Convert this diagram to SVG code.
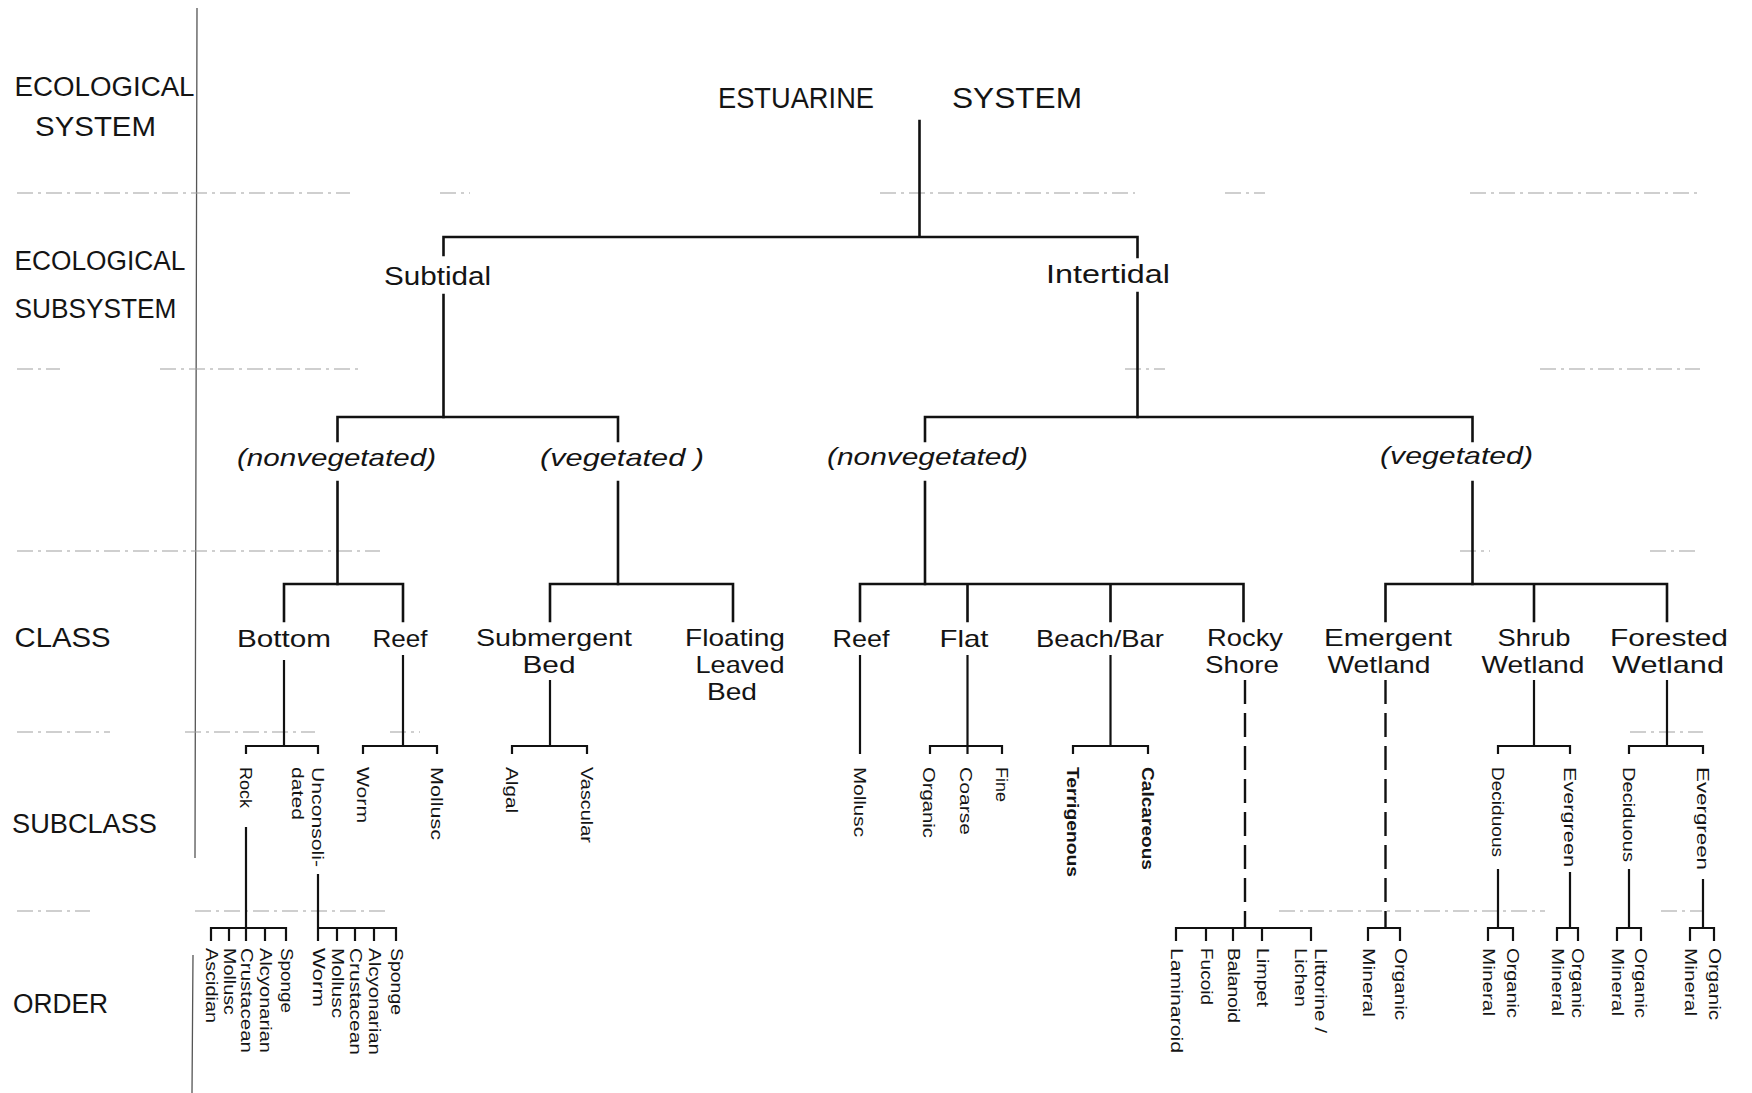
<svg xmlns="http://www.w3.org/2000/svg" width="1752" height="1093" viewBox="0 0 1752 1093">
<style>
text{font-family:"Liberation Sans",Arial,sans-serif;fill:#141414}
.lv{font-size:27px}
.root{font-size:30px}
.sub{font-size:25px}
.it{font-size:24px;font-style:italic}
.cl{font-size:24px;text-anchor:middle}
.sc{font-size:17px}
.bd{font-weight:bold}
.or{font-size:16px}
.ln{fill:none;stroke:#111;stroke-width:2.6;stroke-linejoin:miter;stroke-linecap:square}
.ln2{fill:none;stroke:#111;stroke-width:2.2;stroke-linecap:square}
.dash{fill:none;stroke:#111;stroke-width:2.4;stroke-dasharray:24 9}
.rule{fill:none;stroke:#a0a0a0;stroke-width:1.2;stroke-dasharray:16 5 3 5}
.sep{fill:none;stroke:#555;stroke-width:1.3}
</style>
<rect width="1752" height="1093" fill="#fff"/>
<g id="rules">
<path class="sep" d="M197,8 L195,858 M193,955 L192,1093"/>
<path class="rule" d="M17,193 H350 M440,193 H470 M880,193 H1135 M1225,193 H1265 M1470,193 H1700"/>
<path class="rule" d="M17,369 H60 M160,369 H360 M1125,369 H1165 M1540,369 H1700"/>
<path class="rule" d="M17,551 H380 M1460,551 H1490 M1650,551 H1700"/>
<path class="rule" d="M17,732 H110 M185,732 H315 M390,732 H420 M1630,732 H1703"/>
<path class="rule" d="M17,911 H90 M195,911 H390 M1279,911 H1545 M1661,911 H1703"/>
</g>
<g id="level-labels">
<text class="lv" x="14.5" y="96" textLength="180" lengthAdjust="spacingAndGlyphs">ECOLOGICAL</text>
<text class="lv" x="35" y="136" textLength="121" lengthAdjust="spacingAndGlyphs">SYSTEM</text>
<text class="lv" x="14.5" y="270" textLength="171" lengthAdjust="spacingAndGlyphs">ECOLOGICAL</text>
<text class="lv" x="14.5" y="318" textLength="162" lengthAdjust="spacingAndGlyphs">SUBSYSTEM</text>
<text class="lv" x="14.5" y="647" textLength="96" lengthAdjust="spacingAndGlyphs">CLASS</text>
<text class="lv" x="12" y="833" textLength="145" lengthAdjust="spacingAndGlyphs">SUBCLASS</text>
<text class="lv" x="13" y="1013" textLength="95" lengthAdjust="spacingAndGlyphs">ORDER</text>
</g>
<g id="connectors">
<path class="ln" d="M919.5,121 V237 M443.5,255 V237 H1137.5 V257 M443.5,295 V417 M1137.5,293 V417"/>
<path class="ln" d="M337.5,441 V417 H618 V441 M925,441 V417 H1472.5 V441"/>
<path class="ln" d="M337.5,482 V584 M618,482 V584 M925,482 V584 M1472.5,482 V584"/>
<path class="ln" d="M284,621 V584 H403 V621 M550,621 V584 H733 V621 M860,621 V584 H1243.5 V621 M967.5,584 V621 M1110.5,584 V621 M1385.5,621 V584 H1667 V621 M1534,584 V621"/>
<path class="ln2" d="M284,661 V746 M246,753 V746 H318 V753 M403,656 V746 M363,753 V746 H437 V753 M550,681 V746 M512,753 V746 H587 V753"/>
<path class="ln2" d="M860,656 V753 M967.5,656 V753 M930,753 V746 H1002 V753 M1110.5,656 V746 M1073,753 V746 H1148 V753"/>
<path class="ln2" d="M1534,681 V746 M1498,753 V746 H1570 V753 M1667,681 V746 M1629,753 V746 H1703 V753"/>
<path class="dash" d="M1245,680 V928 M1385.5,680 V928"/>
<path class="ln2" d="M246,828 V928 M211,940 V928 H286 V940 M229,928 V940 M246,928 V940 M265,928 V940"/>
<path class="ln2" d="M318,875 V940 M318,928 H396 V940 M337,928 V940 M355,928 V940 M374,928 V940"/>
<path class="ln2" d="M1176,940 V928 H1311 V940 M1206,928 V940 M1233,928 V940 M1262,928 V940 M1368,940 V928 H1400 V940"/>
<path class="ln2" d="M1498,870 V928 M1488,940 V928 H1513 V940 M1570,873 V928 M1557,940 V928 H1578 V940 M1629,870 V928 M1617,940 V928 H1641 V940 M1703,880 V928 M1690,940 V928 H1714 V940"/>
</g>
<g id="node-root"><text class="root" x="718" y="108" textLength="156" lengthAdjust="spacingAndGlyphs">ESTUARINE</text><text class="root" x="952" y="108" textLength="130" lengthAdjust="spacingAndGlyphs">SYSTEM</text></g>
<g id="node-subtidal"><text class="sub" x="384" y="285" textLength="107" lengthAdjust="spacingAndGlyphs">Subtidal</text></g>
<g id="node-intertidal"><text class="sub" x="1046" y="283" textLength="124" lengthAdjust="spacingAndGlyphs">Intertidal</text></g>
<g id="node-sub-nonveg"><text class="it" x="237" y="466" textLength="199" lengthAdjust="spacingAndGlyphs">(nonvegetated)</text></g>
<g id="node-sub-veg"><text class="it" x="540" y="466" textLength="164" lengthAdjust="spacingAndGlyphs">(vegetated )</text></g>
<g id="node-int-nonveg"><text class="it" x="827" y="465" textLength="201" lengthAdjust="spacingAndGlyphs">(nonvegetated)</text></g>
<g id="node-int-veg"><text class="it" x="1380" y="464" textLength="153" lengthAdjust="spacingAndGlyphs">(vegetated)</text></g>
<g id="node-bottom"><text class="cl" x="284" y="647" textLength="94" lengthAdjust="spacingAndGlyphs">Bottom</text></g>
<g id="node-reef1"><text class="cl" x="400" y="647" textLength="55" lengthAdjust="spacingAndGlyphs">Reef</text></g>
<g id="node-submergent"><text class="cl" x="554" y="646" textLength="156" lengthAdjust="spacingAndGlyphs">Submergent</text><text class="cl" x="549" y="673" textLength="53" lengthAdjust="spacingAndGlyphs">Bed</text></g>
<g id="node-floating"><text class="cl" x="735" y="646" textLength="100" lengthAdjust="spacingAndGlyphs">Floating</text><text class="cl" x="740" y="673" textLength="89" lengthAdjust="spacingAndGlyphs">Leaved</text><text class="cl" x="732" y="700" textLength="50" lengthAdjust="spacingAndGlyphs">Bed</text></g>
<g id="node-reef2"><text class="cl" x="861" y="647" textLength="57" lengthAdjust="spacingAndGlyphs">Reef</text></g>
<g id="node-flat"><text class="cl" x="964" y="647" textLength="49" lengthAdjust="spacingAndGlyphs">Flat</text></g>
<g id="node-beach"><text class="cl" x="1100" y="647" textLength="128" lengthAdjust="spacingAndGlyphs">Beach/Bar</text></g>
<g id="node-rocky"><text class="cl" x="1245" y="646" textLength="76" lengthAdjust="spacingAndGlyphs">Rocky</text><text class="cl" x="1242" y="673" textLength="74" lengthAdjust="spacingAndGlyphs">Shore</text></g>
<g id="node-emergent"><text class="cl" x="1388" y="646" textLength="128" lengthAdjust="spacingAndGlyphs">Emergent</text><text class="cl" x="1379" y="673" textLength="103" lengthAdjust="spacingAndGlyphs">Wetland</text></g>
<g id="node-shrub"><text class="cl" x="1534" y="646" textLength="73" lengthAdjust="spacingAndGlyphs">Shrub</text><text class="cl" x="1533" y="673" textLength="103" lengthAdjust="spacingAndGlyphs">Wetland</text></g>
<g id="node-forested"><text class="cl" x="1669" y="646" textLength="118" lengthAdjust="spacingAndGlyphs">Forested</text><text class="cl" x="1668" y="673" textLength="112" lengthAdjust="spacingAndGlyphs">Wetland</text></g>
<g id="subclasses">
<text class="sc" transform="translate(246,767) rotate(90)" y="6" textLength="41" lengthAdjust="spacingAndGlyphs">Rock</text>
<text class="sc" transform="translate(318,767) rotate(90)" y="6" textLength="100" lengthAdjust="spacingAndGlyphs">Unconsoli-</text>
<text class="sc" transform="translate(298,767) rotate(90)" y="6" textLength="53" lengthAdjust="spacingAndGlyphs">dated</text>
<text class="sc" transform="translate(363,767) rotate(90)" y="6" textLength="56" lengthAdjust="spacingAndGlyphs">Worm</text>
<text class="sc" transform="translate(437,767) rotate(90)" y="6" textLength="73" lengthAdjust="spacingAndGlyphs">Mollusc</text>
<text class="sc" transform="translate(512,767) rotate(90)" y="6" textLength="46" lengthAdjust="spacingAndGlyphs">Algal</text>
<text class="sc" transform="translate(587,767) rotate(90)" y="6" textLength="76" lengthAdjust="spacingAndGlyphs">Vascular</text>
<text class="sc" transform="translate(860,767) rotate(90)" y="6" textLength="70" lengthAdjust="spacingAndGlyphs">Mollusc</text>
<text class="sc" transform="translate(929,767) rotate(90)" y="6" textLength="71" lengthAdjust="spacingAndGlyphs">Organic</text>
<text class="sc" transform="translate(966,767) rotate(90)" y="6" textLength="68" lengthAdjust="spacingAndGlyphs">Coarse</text>
<text class="sc" transform="translate(1002,767) rotate(90)" y="6" textLength="35" lengthAdjust="spacingAndGlyphs">Fine</text>
<text class="sc bd" transform="translate(1073,767) rotate(90)" y="6" textLength="110" lengthAdjust="spacingAndGlyphs">Terrigenous</text>
<text class="sc bd" transform="translate(1148,767) rotate(90)" y="6" textLength="103" lengthAdjust="spacingAndGlyphs">Calcareous</text>
<text class="sc" transform="translate(1498,767) rotate(90)" y="6" textLength="90" lengthAdjust="spacingAndGlyphs">Deciduous</text>
<text class="sc" transform="translate(1570,767) rotate(90)" y="6" textLength="100" lengthAdjust="spacingAndGlyphs">Evergreen</text>
<text class="sc" transform="translate(1629,767) rotate(90)" y="6" textLength="95" lengthAdjust="spacingAndGlyphs">Deciduous</text>
<text class="sc" transform="translate(1703,767) rotate(90)" y="6" textLength="103" lengthAdjust="spacingAndGlyphs">Evergreen</text>
</g>
<g id="orders">
<text class="or" transform="translate(211,948) rotate(90)" y="5.5" textLength="75" lengthAdjust="spacingAndGlyphs">Ascidian</text>
<text class="or" transform="translate(229,948) rotate(90)" y="5.5" textLength="67" lengthAdjust="spacingAndGlyphs">Mollusc</text>
<text class="or" transform="translate(246,948) rotate(90)" y="5.5" textLength="105" lengthAdjust="spacingAndGlyphs">Crustacean</text>
<text class="or" transform="translate(265,948) rotate(90)" y="5.5" textLength="105" lengthAdjust="spacingAndGlyphs">Alcyonarian</text>
<text class="or" transform="translate(286,948) rotate(90)" y="5.5" textLength="65" lengthAdjust="spacingAndGlyphs">Sponge</text>
<text class="or" transform="translate(318,948) rotate(90)" y="5.5" textLength="59" lengthAdjust="spacingAndGlyphs">Worm</text>
<text class="or" transform="translate(337,948) rotate(90)" y="5.5" textLength="70" lengthAdjust="spacingAndGlyphs">Mollusc</text>
<text class="or" transform="translate(355,948) rotate(90)" y="5.5" textLength="107" lengthAdjust="spacingAndGlyphs">Crustacean</text>
<text class="or" transform="translate(374,948) rotate(90)" y="5.5" textLength="107" lengthAdjust="spacingAndGlyphs">Alcyonarian</text>
<text class="or" transform="translate(396,948) rotate(90)" y="5.5" textLength="67" lengthAdjust="spacingAndGlyphs">Sponge</text>
<text class="or" transform="translate(1176,948) rotate(90)" y="5.5" textLength="105" lengthAdjust="spacingAndGlyphs">Laminaroid</text>
<text class="or" transform="translate(1206,948) rotate(90)" y="5.5" textLength="57" lengthAdjust="spacingAndGlyphs">Fucoid</text>
<text class="or" transform="translate(1233,948) rotate(90)" y="5.5" textLength="75" lengthAdjust="spacingAndGlyphs">Balanoid</text>
<text class="or" transform="translate(1262,948) rotate(90)" y="5.5" textLength="59" lengthAdjust="spacingAndGlyphs">Limpet</text>
<text class="or" transform="translate(1320,948) rotate(90)" y="5.5" textLength="85" lengthAdjust="spacingAndGlyphs">Littorine /</text>
<text class="or" transform="translate(1300,948) rotate(90)" y="5.5" textLength="59" lengthAdjust="spacingAndGlyphs">Lichen</text>
<text class="or" transform="translate(1368,948) rotate(90)" y="5.5" textLength="69" lengthAdjust="spacingAndGlyphs">Mineral</text>
<text class="or" transform="translate(1400,948) rotate(90)" y="5.5" textLength="72" lengthAdjust="spacingAndGlyphs">Organic</text>
<text class="or" transform="translate(1488,948) rotate(90)" y="5.5" textLength="68" lengthAdjust="spacingAndGlyphs">Mineral</text>
<text class="or" transform="translate(1512,948) rotate(90)" y="5.5" textLength="70" lengthAdjust="spacingAndGlyphs">Organic</text>
<text class="or" transform="translate(1557,948) rotate(90)" y="5.5" textLength="68" lengthAdjust="spacingAndGlyphs">Mineral</text>
<text class="or" transform="translate(1577,948) rotate(90)" y="5.5" textLength="70" lengthAdjust="spacingAndGlyphs">Organic</text>
<text class="or" transform="translate(1617,948) rotate(90)" y="5.5" textLength="68" lengthAdjust="spacingAndGlyphs">Mineral</text>
<text class="or" transform="translate(1640,948) rotate(90)" y="5.5" textLength="70" lengthAdjust="spacingAndGlyphs">Organic</text>
<text class="or" transform="translate(1690,948) rotate(90)" y="5.5" textLength="68" lengthAdjust="spacingAndGlyphs">Mineral</text>
<text class="or" transform="translate(1714,948) rotate(90)" y="5.5" textLength="72" lengthAdjust="spacingAndGlyphs">Organic</text>
</g>
</svg>
